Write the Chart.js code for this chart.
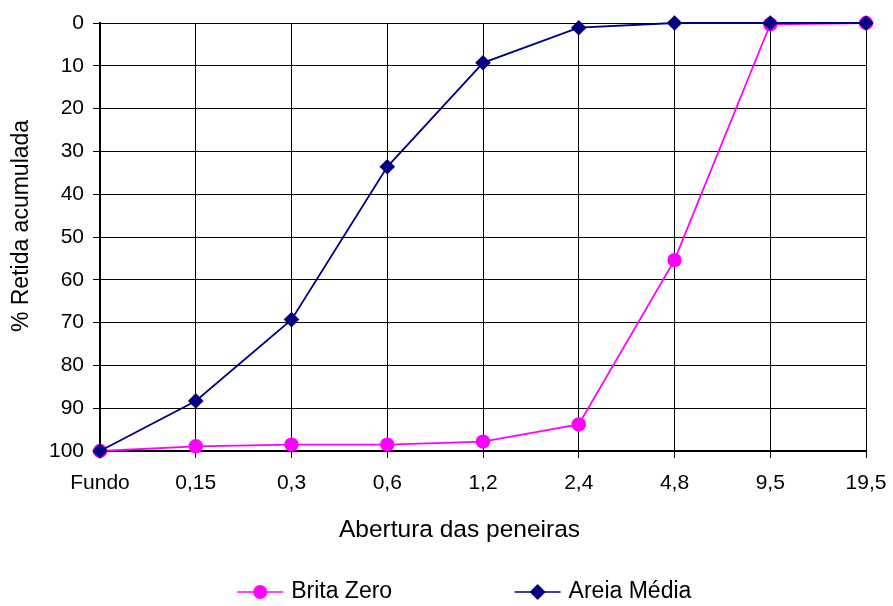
<!DOCTYPE html>
<html>
<head>
<meta charset="utf-8">
<script src="https://cdn.jsdelivr.net/npm/chart.js@4/dist/chart.umd.min.js"></script>
<style>
  html, body { margin: 0; padding: 0; background: #fff; }
  #wrap { width: 893px; height: 606px; }
</style>
</head>
<body>
<div id="wrap"><canvas id="c" width="893" height="606"></canvas></div>
<script>
// ---- Data ----
const categories = ['Fundo', '0,15', '0,3', '0,6', '1,2', '2,4', '4,8', '9,5', '19,5'];
const britaZero  = [100, 98.9, 98.5, 98.5, 97.8, 93.8, 55.4, 0.3, 0];
const areiaMedia = [100, 88.3, 69.3, 33.6, 9.3, 1.1, 0, 0, 0];
const seriesNames = ['Brita Zero', 'Areia Média'];
const yTicks = [0, 10, 20, 30, 40, 50, 60, 70, 80, 90, 100];
const xTitle = 'Abertura das peneiras';
const yTitle = '% Retida acumulada';

// ---- Style / layout ----
const FONT = "'Liberation Sans', Arial, sans-serif";
const MAGENTA = '#FF00FF';
const NAVY = '#000080';
const LEG_PAD = 60;
const LEG_BOX = 105;
const LEG_FONT = 23;
const LEG_CENTER_Y = 592;
const X_TITLE_POS = { x: 459.5, y: 530, size: 24.5 };
const Y_TITLE_POS = { x: 22, y: 226, size: 23 };

function legendIcon(color, style) {
  const extra = 10;
  const c = document.createElement('canvas');
  c.width = LEG_BOX + 2 * extra;
  c.height = 24;
  const g = c.getContext('2d');
  const end = extra + LEG_BOX + 3.5;
  const start = end - 46;
  const cy = 12;
  g.strokeStyle = color;
  g.lineWidth = 1.5;
  g.beginPath(); g.moveTo(start, cy); g.lineTo(end, cy); g.stroke();
  const mx = (start + end) / 2;
  g.fillStyle = color;
  g.beginPath();
  if (style === 'circle') {
    g.arc(mx, cy, 7, 0, Math.PI * 2);
  } else {
    const r = 8;
    g.moveTo(mx, cy - r); g.lineTo(mx + r, cy); g.lineTo(mx, cy + r); g.lineTo(mx - r, cy); g.closePath();
  }
  g.fill();
  return c;
}

const layoutPlugin = {
  id: 'layoutTweak',
  afterInit(chart) {
    const lg = chart.legend;
    if (!lg) return;
    const orig = lg.fit.bind(lg);
    lg.fit = function () { orig(); this.height = 46; };
  },
  afterLayout(chart) {
    const lg = chart.legend;
    if (!lg) return;
    lg.top = LEG_CENTER_Y - LEG_PAD - LEG_FONT / 2;
    lg.bottom = chart.height;
    lg.height = lg.bottom - lg.top;
  },
  afterDraw(chart) {
    const ctx = chart.ctx;
    ctx.save();
    ctx.fillStyle = '#000';
    ctx.textAlign = 'center';
    ctx.textBaseline = 'middle';
    ctx.font = X_TITLE_POS.size + 'px ' + FONT;
    ctx.fillText(xTitle, X_TITLE_POS.x, X_TITLE_POS.y);
    ctx.translate(Y_TITLE_POS.x, Y_TITLE_POS.y);
    ctx.rotate(-Math.PI / 2);
    ctx.font = Y_TITLE_POS.size + 'px ' + FONT;
    ctx.fillText(yTitle, 0, 0);
    ctx.restore();
  }
};

new Chart(document.getElementById('c'), {
  type: 'line',
  data: {
    labels: categories,
    datasets: [
      {
        label: seriesNames[0],
        data: britaZero,
        borderColor: MAGENTA,
        backgroundColor: MAGENTA,
        borderWidth: 1.8,
        pointStyle: 'circle',
        pointRadius: 7.2,
        pointHoverRadius: 7.2,
        pointBorderWidth: 0,
        pointBackgroundColor: MAGENTA,
        tension: 0,
        clip: false,
        order: 1
      },
      {
        label: seriesNames[1],
        data: areiaMedia,
        borderColor: NAVY,
        backgroundColor: NAVY,
        borderWidth: 1.8,
        pointStyle: 'rectRot',
        pointRadius: 7.8,
        pointHoverRadius: 7.8,
        pointBorderWidth: 0,
        pointBackgroundColor: NAVY,
        tension: 0,
        clip: false,
        order: 0
      }
    ]
  },
  options: {
    responsive: false,
    animation: false,
    devicePixelRatio: 1,
    layout: { padding: { left: 0, right: 27, top: 23, bottom: 0 } },
    plugins: {
      tooltip: { enabled: false },
      legend: {
        position: 'bottom',
        align: 'center',
        labels: {
          usePointStyle: true,
          pointStyleWidth: LEG_BOX,
          padding: LEG_PAD,
          color: '#000',
          font: { family: FONT, size: LEG_FONT },
          generateLabels(chart) {
            return [
              { text: seriesNames[0], pointStyle: legendIcon(MAGENTA, 'circle'), fillStyle: MAGENTA, strokeStyle: MAGENTA, lineWidth: 0, datasetIndex: 0, fontColor: '#000', hidden: false },
              { text: seriesNames[1], pointStyle: legendIcon(NAVY, 'diamond'), fillStyle: NAVY, strokeStyle: NAVY, lineWidth: 0, datasetIndex: 1, fontColor: '#000', hidden: false }
            ];
          }
        }
      }
    },
    scales: {
      x: {
        type: 'category',
        offset: false,
        grid: { color: '#000', lineWidth: 1, tickLength: 7, drawTicks: true },
        border: { color: '#000', width: 2 },
        ticks: { color: '#000', font: { family: FONT, size: 21 }, padding: 13, maxRotation: 0, autoSkip: false },
        title: { display: false },
        afterFit(scale) { scale.height = 109; scale.paddingRight = 0; }
      },
      y: {
        reverse: true,
        min: 0,
        max: 100,
        afterBuildTicks(scale) { scale.ticks = yTicks.map(v => ({ value: v })); },
        grid: { color: '#000', lineWidth: 1, tickLength: 7, drawTicks: true },
        border: { color: '#000', width: 2 },
        ticks: { color: '#000', font: { family: FONT, size: 21 }, padding: 9 },
        title: { display: false },
        afterFit(scale) { scale.width = 100; }
      }
    }
  },
  plugins: [layoutPlugin]
});
</script>
</body>
</html>
